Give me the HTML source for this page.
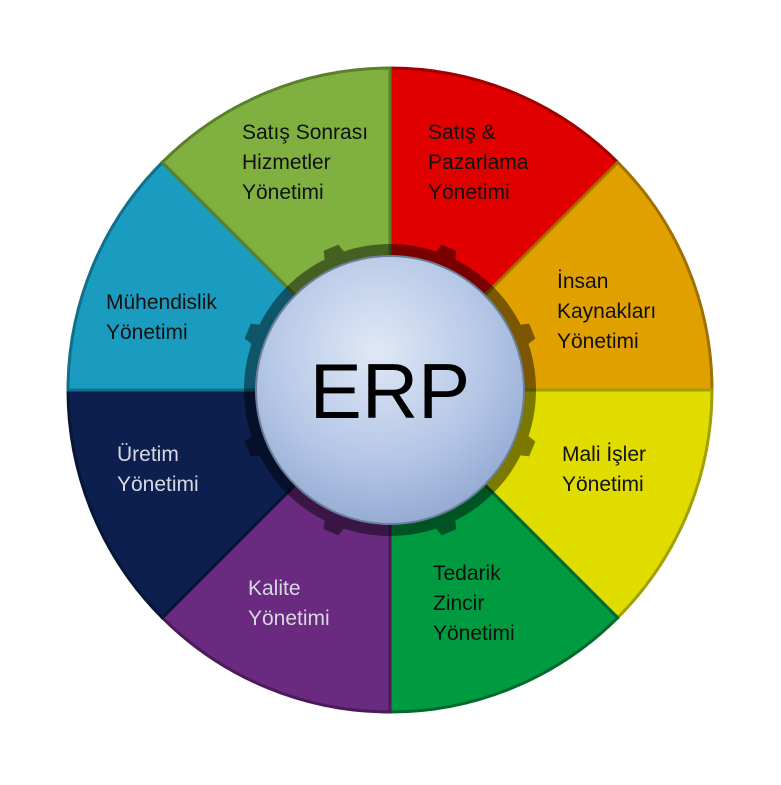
<!DOCTYPE html>
<html><head><meta charset="utf-8"><style>
body{margin:0;background:#fff}
text{font-family:"Liberation Sans","DejaVu Sans",sans-serif;font-size:21px}
</style></head><body>
<svg width="781" height="780" viewBox="0 0 781 780">
<defs>
<radialGradient id="c" cx="0.45" cy="0.35" r="0.7"><stop offset="0" stop-color="#dfe8f6"/><stop offset="0.6" stop-color="#b4c6e6"/><stop offset="1" stop-color="#8fa6d0"/></radialGradient>
<path id="t" d="M378 250 L382 236 L398 236 L402 250Z"/>
</defs>
<g stroke-width="3">
<path d="M390 390 L390 68 A322 322 0 0 1 617.7 162.3Z" fill="#e00000" stroke="#a00000"/>
<path d="M390 390 L617.7 162.3 A322 322 0 0 1 712 390Z" fill="#e0a000" stroke="#a07000"/>
<path d="M390 390 L712 390 A322 322 0 0 1 617.7 617.7Z" fill="#e0dc00" stroke="#a0a000"/>
<path d="M390 390 L617.7 617.7 A322 322 0 0 1 390 712Z" fill="#009a40" stroke="#006a2c"/>
<path d="M390 390 L390 712 A322 322 0 0 1 162.3 617.7Z" fill="#6a2a80" stroke="#4a1a5a"/>
<path d="M390 390 L162.3 617.7 A322 322 0 0 1 68 390Z" fill="#0c1f4e" stroke="#081535"/>
<path d="M390 390 L68 390 A322 322 0 0 1 162.3 162.3Z" fill="#1a9cc0" stroke="#10708a"/>
<path d="M390 390 L162.3 162.3 A322 322 0 0 1 390 68Z" fill="#80b040" stroke="#5a8028"/>
</g>
<g fill="#000" opacity="0.45">
<circle cx="390" cy="390" r="146"/>
<use href="#t" transform="rotate(-22.5 390 390)"/>
<use href="#t" transform="rotate(22.5 390 390)"/>
<use href="#t" transform="rotate(67.5 390 390)"/>
<use href="#t" transform="rotate(112.5 390 390)"/>
<use href="#t" transform="rotate(157.5 390 390)"/>
<use href="#t" transform="rotate(202.5 390 390)"/>
<use href="#t" transform="rotate(247.5 390 390)"/>
<use href="#t" transform="rotate(292.5 390 390)"/>
</g>
<circle cx="390" cy="390" r="134" fill="url(#c)" stroke="#6c7f9a" stroke-width="2"/>
<text x="390" y="418" text-anchor="middle" style="font-size:78px" fill="#000">ERP</text>
<g fill="#111">
<text x="242" y="139">Satış Sonrası</text><text x="242" y="169">Hizmetler</text><text x="242" y="199">Yönetimi</text>
<text x="428" y="139">Satış &amp;</text><text x="428" y="169">Pazarlama</text><text x="428" y="199">Yönetimi</text>
<text x="557" y="288">İnsan</text><text x="557" y="318">Kaynakları</text><text x="557" y="348">Yönetimi</text>
<text x="562" y="461">Mali İşler</text><text x="562" y="491">Yönetimi</text>
<text x="433" y="580">Tedarik</text><text x="433" y="610">Zincir</text><text x="433" y="640">Yönetimi</text>
<text x="106" y="309">Mühendislik</text><text x="106" y="339">Yönetimi</text>
</g>
<g fill="#d8d8e0">
<text x="117" y="461">Üretim</text><text x="117" y="491">Yönetimi</text>
<text x="248" y="595">Kalite</text><text x="248" y="625">Yönetimi</text>
</g>
</svg>
</body></html>
